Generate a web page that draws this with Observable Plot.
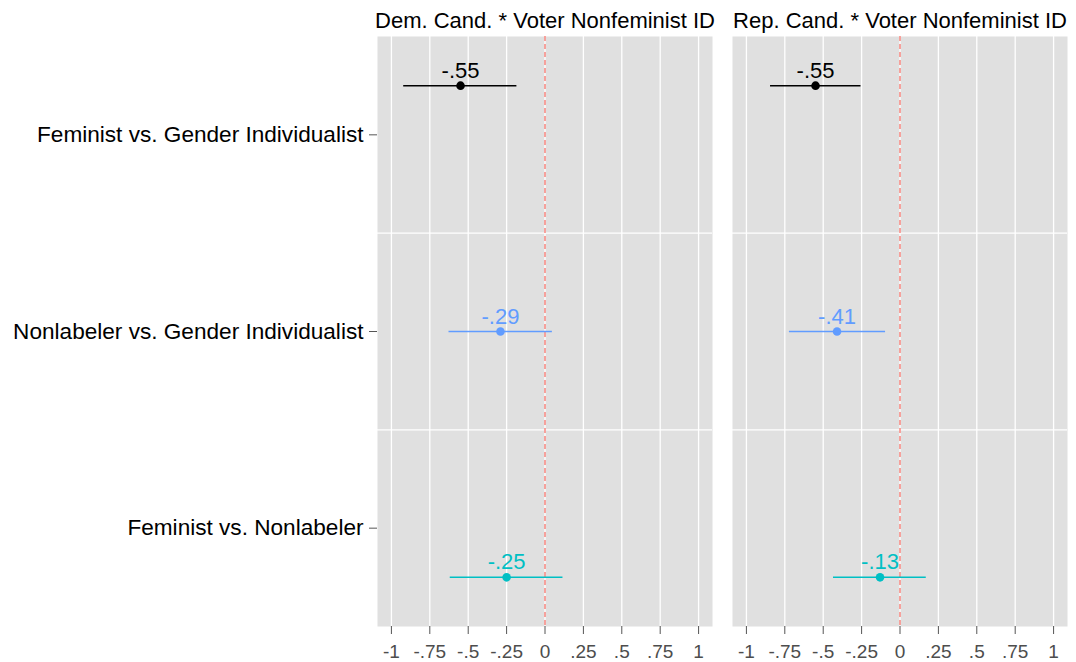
<!DOCTYPE html>
<html>
<head>
<meta charset="utf-8">
<script src="https://cdn.jsdelivr.net/npm/d3@7"></script>
<script src="https://cdn.jsdelivr.net/npm/@observablehq/plot@0.6"></script>
<style>
  html, body { margin: 0; padding: 0; background: #fff; }
  #chart svg { display: block; }
</style>
</head>
<body>
<div id="chart"></div>
<script>
// ---- data ----
const panels = ["Dem. Cand. * Voter Nonfeminist ID", "Rep. Cand. * Voter Nonfeminist ID"];
const comparisons = ["Feminist vs. Gender Individualist", "Nonlabeler vs. Gender Individualist", "Feminist vs. Nonlabeler"];
const comparisonColors = ["#000000", "#619CFF", "#00BFC4"];
const yValues = [3.25, 2, 0.75];          // vertical placement of each estimate
const yCategoryValues = [3, 2, 1];        // axis position of each comparison label
const demEstimate = [-0.55, -0.29, -0.25];
const demLower    = [-0.92, -0.625, -0.617];
const demUpper    = [-0.183, 0.048, 0.117];
const repEstimate = [-0.55, -0.41, -0.13];
const repLower    = [-0.843, -0.72, -0.433];
const repUpper    = [-0.254, -0.094, 0.171];
const estimateLabels = {
  dem: ["-.55", "-.29", "-.25"],
  rep: ["-.55", "-.41", "-.13"]
};
const xTicks = [-1, -0.75, -0.5, -0.25, 0, 0.25, 0.5, 0.75, 1];
const xTickLabels = ["-1", "-.75", "-.5", "-.25", "0", ".25", ".5", ".75", "1"];
const yGridLines = [1.5, 2.5];

// ---- table ----
const rows = [];
comparisons.forEach((c, i) => {
  rows.push({panel: panels[0], comparison: c, y: yValues[i], est: demEstimate[i], lo: demLower[i], hi: demUpper[i], label: estimateLabels.dem[i]});
  rows.push({panel: panels[1], comparison: c, y: yValues[i], est: repEstimate[i], lo: repLower[i], hi: repUpper[i], label: estimateLabels.rep[i]});
});

const font = "'Liberation Sans', Arial, Helvetica, sans-serif";

const chart = Plot.plot({
  width: 1076,
  height: 662,
  marginLeft: 376,
  marginRight: 8,
  marginTop: 36,
  marginBottom: 36,
  style: {fontFamily: font, background: "#fff"},
  fx: {domain: panels, paddingInner: 0.056, paddingOuter: 0},
  x: {domain: [-1.0906, 1.0906]},
  y: {domain: [0.5, 3.5]},
  color: {domain: comparisons, range: comparisonColors},
  marks: [
    Plot.frame({fill: "#E0E0E0", stroke: null}),
    Plot.gridX(xTicks, {stroke: "#ffffff", strokeOpacity: 1, strokeWidth: 1.3}),
    Plot.gridY(yGridLines, {stroke: "#ffffff", strokeOpacity: 1, strokeWidth: 1.3}),
    Plot.ruleX([0], {stroke: "#F8766D", strokeWidth: 1.3, strokeDasharray: "5,3"}),
    Plot.ruleY(rows, {fx: "panel", y: "y", x1: "lo", x2: "hi", stroke: "comparison", strokeWidth: 1.5}),
    Plot.dot(rows, {fx: "panel", x: "est", y: "y", fill: "comparison", r: 4.3}),
    Plot.text(rows, {fx: "panel", x: "est", y: "y", text: "label", fill: "comparison", fontSize: 22, dy: -15, textAnchor: "middle", lineAnchor: "middle"}),
    Plot.axisFx({anchor: "top", label: null, tickSize: 0, tickPadding: 9, fontSize: 22, fill: "#000"}),
    Plot.axisX({ticks: xTicks, tickFormat: (d) => xTickLabels[xTicks.indexOf(d)], label: null, tickSize: 8, tickPadding: 10, fontSize: 19, color: "#4D4D4D", stroke: "#555"}),
    Plot.axisY({ticks: yCategoryValues, tickFormat: (d) => comparisons[yCategoryValues.indexOf(d)], label: null, tickSize: 8, tickPadding: 6, fontSize: 22.6, fill: "#000", stroke: "#555"})
  ]
});

document.getElementById("chart").appendChild(chart);
</script>
</body>
</html>
